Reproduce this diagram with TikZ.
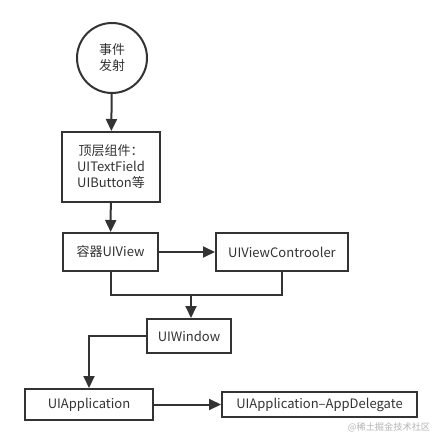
\documentclass[tikz,border=0pt]{standalone}
\usepackage{fontspec}
\setmainfont{Noto Sans CJK SC}
\usetikzlibrary{arrows.meta}
\definecolor{ink}{HTML}{333333}
\definecolor{wm}{HTML}{B4B4B4}
\begin{document}
\begin{tikzpicture}[x=1pt,y=-1pt,
  every node/.style={font=\fontsize{13}{16}\selectfont, text=ink},
  box/.style={draw=ink, line width=2pt, rectangle, inner sep=0pt, align=center, fill=white},
  conn/.style={draw=ink, line width=2pt},
  arr/.style={conn, -{Triangle[length=12pt,width=11pt]}}]
\useasboundingbox (0,0) rectangle (442,444);
\fill[white] (0,0) rectangle (442,444);
\node[draw=ink, line width=2pt, circle, minimum size=70pt, inner sep=0pt, align=center] (ev) at (112,58) {事件\\发射};
\node[box, minimum width=98pt, minimum height=70pt] (top) at (111,167) {顶层组件：\\UITextField\\UIButton等};
\node[box, minimum width=95pt, minimum height=38pt] (uiview) at (110.5,252) {容器UIView};
\node[box, minimum width=132pt, minimum height=38pt] (vc) at (282,252) {UIViewControoler};
\node[box, minimum width=84pt, minimum height=34pt] (win) at (189,336) {UIWindow};
\node[box, minimum width=128pt, minimum height=31pt] (app) at (89,404.5) {UIApplication};
\node[box, minimum width=195pt, minimum height=25pt] (del) at (319.5,404.5) {UIApplication–AppDelegate};
\node[font=\fontsize{9.2}{11}\selectfont, text=wm] (wmk) at (389,427) {@稀土掘金技术社区};
\coordinate (j) at (191,295);
\draw[arr] (ev) -- (top);
\draw[arr] (top) -- (uiview);
\draw[arr] (uiview) -- (vc);
\draw[conn, line join=miter] (uiview.south) |- (j) -| (vc.south);
\draw[arr] (j) -- (j |- win.north);
\draw[arr] (win.west) -| (app.north);
\draw[arr] (app) -- (del);
\end{tikzpicture}
\end{document}
